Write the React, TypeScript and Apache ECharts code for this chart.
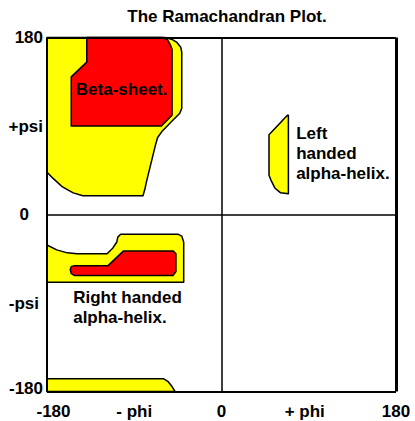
import React, { useEffect, useRef } from "react";
import * as echarts from "echarts";

const FONT = "'Liberation Sans', Arial, Helvetica, sans-serif";

const titleText = "The Ramachandran Plot.";
const xTickValues = [-180, -90, 0, 90, 180];
const xTickLabels = ["-180", "- phi", "0", "+ phi", "180"];
const yTickValues = [-180, -90, 0, 90, 180];
const yTickLabels = ["-180", "-psi", "0", "+psi", "180"];

// region outlines in (phi, psi) degrees
const betaAllowed = [
  [-180, 180], [-58, 180], [-51, 178], [-46, 175], [-42, 170], [-41, 165],
  [-41, 108], [-43, 103], [-52, 94], [-61, 85], [-66, 78], [-68, 71],
  [-77, 35], [-79, 26], [-81, 19], [-143, 19], [-153, 22], [-164, 28],
  [-174, 37], [-180, 43],
];
const betaCore = [
  [-139, 180], [-61, 180], [-56, 178], [-53, 173], [-51, 168], [-51, 101],
  [-62, 90], [-155, 90], [-155, 140], [-139, 155],
];
const rightHelixAllowed = [
  [-180, -31], [-170, -36], [-159, -39], [-149, -40], [-118, -40],
  [-112, -34], [-108, -28], [-107, -23], [-104, -20], [-45, -20],
  [-41, -22], [-39, -28], [-39, -69], [-180, -69],
];
const rightHelixCore = [
  [-152, -52], [-117, -52], [-101, -37], [-50, -37], [-47, -40],
  [-47, -58], [-50, -62], [-152, -62], [-155, -60], [-156, -56], [-155, -53],
];
const bottomAllowed = [
  [-180, -167], [-60, -167], [-55, -170], [-51, -175], [-48, -180], [-180, -180],
];
const leftHelixAllowed = [
  [68, 101], [69, 101], [69, 21], [61, 22], [55, 27], [51, 35], [49, 40], [49, 81],
];

const regions = [betaAllowed, betaCore, rightHelixAllowed, rightHelixCore, bottomAllowed, leftHelixAllowed];
const regionKinds = ["allowed", "core", "allowed", "core", "allowed", "allowed"];

const labelTexts = ["Beta-sheet.", "Right handed\nalpha-helix.", "Left\nhanded\nalpha-helix."];
const labelPhi = [-103, -153, 77];
const labelPsi = [127, -95, 62];
const labelAlign = ["center", "left", "left"];

const ALLOWED = "#FFFF00";
const CORE = "#FF0000";

export default function App() {
  const ref = useRef<HTMLDivElement>(null);
  useEffect(() => {
    if (!ref.current) return;
    const chart = echarts.init(ref.current, null, { renderer: "svg" });
    const labelFont = { fontFamily: FONT, fontSize: 17, fontWeight: "bold", color: "#000" };
    const option: any = {
      animation: false,
      backgroundColor: "#fff",
      title: {
        text: titleText,
        left: 222,
        top: 3,
        textAlign: "center",
        textStyle: { fontFamily: FONT, fontSize: 17, fontWeight: "bold", color: "#000" },
      },
      grid: { left: 47, right: 19, top: 37.5, bottom: 29.5, containLabel: false },
      xAxis: {
        type: "value",
        min: -180,
        max: 180,
        interval: 90,
        axisLine: { show: false },
        axisTick: { show: false },
        splitLine: { show: false },
        axisLabel: {
          margin: 11,
          showMinLabel: true,
          showMaxLabel: true,
          formatter: (v: number) => {
            const i = xTickValues.indexOf(v);
            const t = i >= 0 ? xTickLabels[i] : "";
            if (v === -180) return "{l|" + t + "}";
            if (v === 90) return "{r|" + t + "}";
            return "{n|" + t + "}";
          },
          rich: {
            n: { ...labelFont },
            l: { ...labelFont, padding: [0, 0, 0, 13] },
            r: { ...labelFont, padding: [0, 8, 0, 0] },
          },
          ...labelFont,
        },
      },
      yAxis: {
        type: "value",
        min: -180,
        max: 180,
        interval: 90,
        axisLine: { show: false },
        axisTick: { show: false },
        splitLine: { show: false },
        axisLabel: {
          margin: 4,
          showMinLabel: true,
          showMaxLabel: true,
          formatter: (v: number) => {
            const i = yTickValues.indexOf(v);
            const t = i >= 0 ? yTickLabels[i] : "";
            if (v === 0) return "{z|" + t + "}";
            if (v === -90) return "{p|" + t + "}";
            if (v === -180) return "{b|" + t + "}";
            return "{n|" + t + "}";
          },
          rich: {
            n: { ...labelFont },
            z: { ...labelFont, padding: [0, 14, 0, 0] },
            p: { ...labelFont, padding: [0, 4, 0, 0] },
            b: { ...labelFont, padding: [0, 0, 7, 0] },
          },
          ...labelFont,
        },
      },
      series: [
        {
          type: "custom",
          coordinateSystem: "cartesian2d",
          silent: true,
          z: 2,
          data: regions.map((_, i) => [i, 0]),
          renderItem: (params: any, api: any) => {
            const idx = params.dataIndex;
            const pts = regions[idx].map((p) => api.coord(p));
            return {
              type: "polygon",
              shape: { points: pts },
              style: {
                fill: regionKinds[idx] === "core" ? CORE : ALLOWED,
                stroke: "#000",
                lineWidth: 1.5,
                lineJoin: "round",
              },
            };
          },
          markLine: {
            silent: true,
            symbol: "none",
            label: { show: false },
            z: 10,
            data: [
              { xAxis: 0, lineStyle: { color: "#000", width: 1.5, type: "solid" } },
              { yAxis: 0, lineStyle: { color: "#000", width: 1.5, type: "solid" } },
              { xAxis: -180, lineStyle: { color: "#000", width: 2, type: "solid" } },
              { xAxis: 180, lineStyle: { color: "#000", width: 3, type: "solid" } },
              { yAxis: 180, lineStyle: { color: "#000", width: 2, type: "solid" } },
              { yAxis: -180, lineStyle: { color: "#000", width: 2, type: "solid" } },
            ],
          },
        },
        {
          type: "custom",
          coordinateSystem: "cartesian2d",
          silent: true,
          z: 5,
          data: labelTexts.map((_, i) => [labelPhi[i], labelPsi[i]]),
          renderItem: (params: any, api: any) => {
            const idx = params.dataIndex;
            const pt = api.coord([api.value(0), api.value(1)]);
            return {
              type: "text",
              x: pt[0],
              y: pt[1],
              style: {
                text: labelTexts[idx],
                fill: "#000",
                font: "bold 17px " + FONT,
                align: labelAlign[idx],
                verticalAlign: "middle",
                lineHeight: 20,
              },
            };
          },
        },
      ],
    };
    chart.setOption(option);
    return () => chart.dispose();
  }, []);
  return (
    <div
      ref={ref}
      style={{ position: "absolute", left: 0, top: 0, width: 415, height: 421, background: "#fff" }}
    />
  );
}
